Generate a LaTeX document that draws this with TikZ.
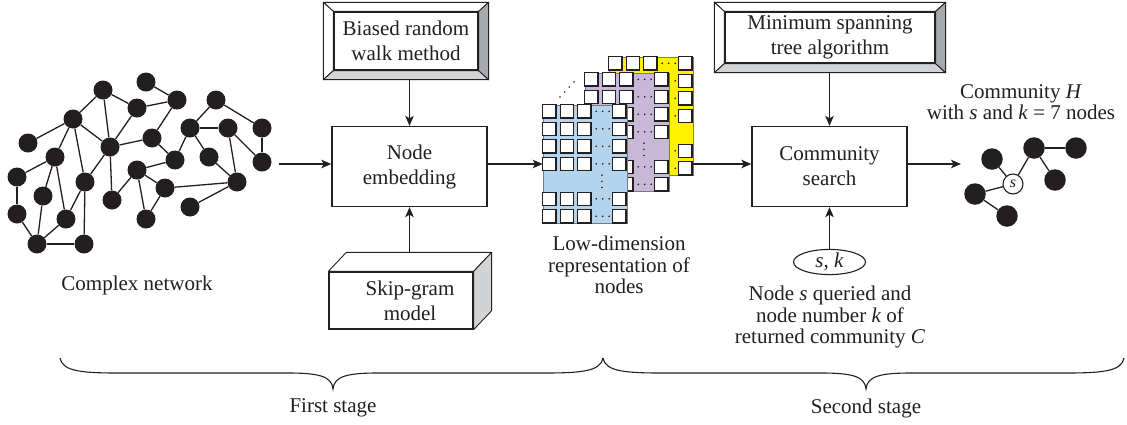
\documentclass[tikz,border=0pt]{standalone}
\usepackage{fontspec}
\setmainfont{Liberation Serif}
\usetikzlibrary{arrows.meta,calc,shapes.geometric}

\definecolor{ink}{HTML}{231F20}
\definecolor{panelblue}{HTML}{B4D4EE}
\definecolor{panelpurple}{HTML}{C7B8D8}
\definecolor{panelyellow}{HTML}{FFF100}
\definecolor{bevlight}{HTML}{D1D3D4}
\definecolor{bevdark}{HTML}{A7A9AC}

% bevelled frame around a named node (bevel 10 wide, 9 high)
\newcommand\bevelframe[1]{%
  \coordinate (bi1) at (#1.north west);
  \coordinate (bi2) at (#1.north east);
  \coordinate (bi3) at (#1.south east);
  \coordinate (bi4) at (#1.south west);
  \coordinate (bo1) at ($(bi1)+(-10,-9)$);
  \coordinate (bo2) at ($(bi2)+(10,-9)$);
  \coordinate (bo3) at ($(bi3)+(10,9)$);
  \coordinate (bo4) at ($(bi4)+(-10,9)$);
  \filldraw[facet,fill=white] (bo1) -- (bo2) -- (bi2) -- (bi1) -- cycle;
  \filldraw[facet,fill=white] (bo1) -- (bi1) -- (bi4) -- (bo4) -- cycle;
  \filldraw[facet,fill=bevlight] (bo4) -- (bi4) -- (bi3) -- (bo3) -- cycle;
  \filldraw[facet,fill=bevdark] (bo2) -- (bo3) -- (bi3) -- (bi2) -- cycle;
  \draw[draw=ink,line width=1.3pt] (bi1) rectangle (bi3);
}

% grid of cells, dotted column and dotted row inside an embedding panel
\newcommand\panelcells[1]{%
  \foreach \c in {0,1,2,4}
    \foreach \r in {0,1,2,3,5,6}
      \draw[cell] ($(#1.north west)+(\c*17.5,\r*17.5)$) rectangle +(13.3,13.3);
  \foreach \r in {0,1,2,3,5,6}
    \foreach \k in {1,7.5,14}
      \fill[ink] ($(#1.north west)+(52.5+\k,\r*17.5+6.65)$) circle (0.9);
  \foreach \k in {0.5,6.65,12.8}
    \fill[ink] ($(#1.north west)+(59.2,70+\k)$) circle (0.9);
}

% curly brace under a stage: left end, tip, right end
\newcommand\stagebrace[3]{%
  \draw[brace] (#1,358) .. controls (#1+2,372) and (#1+25,373) .. (#1+60,373)
    -- (#2-45,373) .. controls (#2-15,373) and (#2-1,376) .. (#2,389)
    .. controls (#2+1,376) and (#2+15,373) .. (#2+45,373)
    -- (#3-60,373) .. controls (#3-25,373) and (#3-2,372) .. (#3,358);
}

\begin{document}
\begin{tikzpicture}[x=1pt,y=-1pt,
  every node/.style={text=ink},
  txt/.style={font=\fontsize{21}{21.5}\selectfont,align=center,inner sep=0pt},
  link/.style={draw=ink,line width=1.3pt},
  arr/.style={link,-{Stealth[length=10pt,width=8.5pt,inset=2.5pt]}},
  dot/.style={circle,fill=ink,minimum size=19pt,inner sep=0pt},
  bigdot/.style={circle,fill=ink,minimum size=21.5pt,inner sep=0pt},
  procbox/.style={draw=ink,line width=1.3pt,fill=white,align=center,inner sep=0pt,
    font=\fontsize{21}{25}\selectfont},
  facet/.style={draw=ink,line width=0.9pt,line join=round},
  cell/.style={draw=ink,fill=white,line width=1.2pt},
  panel/.style={draw=ink!60,line width=0.6pt,minimum width=84pt,minimum height=118pt,
    inner sep=0pt},
  brace/.style={draw=ink,line width=1.1pt}
]
\fill[white] (0,0) rectangle (1127,424);
\useasboundingbox (0,0) rectangle (1127,424);

% ---------------- complex network ----------------
\foreach \n/\x/\y in {1/103/90, 2/146/82, 3/177/100, 4/137/108, 5/73/119,
    6/216/100, 7/190/128, 8/228/128, 9/262/128, 10/28/143, 11/110/147,
    12/152/138, 13/55/157, 14/175/160, 15/209/157, 16/262/162, 17/137/170,
    18/17/177, 19/85/182, 20/165/188, 21/237/182, 22/43/196, 23/112/200,
    24/190/207, 25/17/214, 26/66/219, 27/146/219, 28/37/244, 29/84/244}
  \node[dot] (n\n) at (\x,\y) {};
\foreach \a/\b in {2/3, 1/4, 4/3, 1/5, 1/11, 5/10, 5/11, 5/13, 5/19, 4/11,
    3/12, 11/12, 12/14, 11/23, 11/19, 13/18, 13/22, 13/26, 18/25, 25/28,
    22/28, 26/28, 28/29, 29/19, 19/26, 14/7, 14/17, 17/23, 17/20, 17/27,
    20/27, 20/21, 7/6, 7/8, 7/15, 6/9, 8/21, 8/16, 9/16, 15/21, 21/24}
  \draw[link] (n\a) -- (n\b);
\node[txt] (lblnet) at (137,285) {Complex network};

% ---------------- first stage: node embedding ----------------
\node[procbox,minimum width=155pt,minimum height=80pt] (emb) at (409.5,166.5)
  {Node\\embedding};
\node[procbox,minimum width=144pt,minimum height=58pt] (brw) at (406,41)
  {Biased random\\walk method};
\bevelframe{brw}

\node[procbox,minimum width=144pt,minimum height=57pt] (skip) at (401,300.5)
  {\hspace*{18pt}Skip-gram\\\hspace*{18pt}model};
\filldraw[facet,fill=white] (skip.north west) -- ++(18,-19)
  -- ($(skip.north east)+(18,-19)$) -- (skip.north east) -- cycle;
\filldraw[facet,fill=bevlight] (skip.north east) -- ++(18,-19)
  -- ($(skip.south east)+(18,-19)$) -- (skip.south east) -- cycle;
\draw[draw=ink,line width=1.3pt] (skip.north west) rectangle (skip.south east);

% ---------------- embedding panels ----------------
\node[panel,fill=panelyellow] (py) at (651,116) {};
\panelcells{py}
\node[panel,fill=panelpurple] (pp) at (627,132) {};
\panelcells{pp}
\node[panel,fill=panelblue] (pb) at (585,164) {};
\panelcells{pb}
\foreach \x/\y in {560/97, 564.7/92, 569.3/87, 574/82}
  \fill[ink] (\x,\y) circle (0.9);
\node[txt] (lblemb) at (619,265) {Low-dimension\\representation of\\nodes};

% ---------------- second stage: community search ----------------
\node[procbox,minimum width=155pt,minimum height=80pt] (cs) at (829.5,166.5)
  {Community\\search};
\node[procbox,minimum width=210pt,minimum height=51pt] (mst) at (830,37.5)
  {Minimum spanning\\tree algorithm};
\bevelframe{mst}
\node[draw=ink,ellipse,line width=1.1pt,minimum width=72pt,minimum height=22pt,
  inner sep=0pt,font=\fontsize{21}{21}\selectfont] (sk) at (829.5,262)
  {\textit{s}, \textit{k}};
\node[txt] (lblq) at (830,317)
  {Node \textit{s} queried and\\node number \textit{k} of\\returned community \textit{C}};

% ---------------- community H ----------------
\node[txt] (lblh) at (1021,102)
  {Community \textit{H}\\with \textit{s} and \textit{k} = 7 nodes};
\node[circle,draw=ink,fill=white,line width=1.1pt,minimum size=20pt,inner sep=0pt,
  font=\fontsize{16}{16}\selectfont] (hs) at (1013,184) {\textit{s}};
\node[bigdot] (ha) at (992,159) {};
\node[bigdot] (hb) at (1034,148) {};
\node[bigdot] (hc) at (1076,148) {};
\node[bigdot] (hd) at (1055,180) {};
\node[bigdot] (he) at (975,194) {};
\node[bigdot] (hf) at (1007,216) {};
\foreach \a/\b in {ha/hs, hs/hb, hb/hc, hb/hd, hs/he, he/hf}
  \draw[link] (\a) -- (\b);

% ---------------- connectors ----------------
\coordinate (netout) at (279,164);
\coordinate (hin) at (961,164);
\draw[arr] (netout) -- (netout -| emb.west);
\draw[arr] (emb.east |- netout) -- (pb.west |- netout);
\draw[arr] (py.east |- netout) -- (cs.west |- netout);
\draw[arr] (cs.east |- netout) -- (hin);
\draw[arr] ($(emb.north |- brw.south)+(0,9)$) -- (emb.north);
\draw[arr] ($(emb.south |- skip.north)+(0,-19)$) -- (emb.south);
\draw[arr] ($(cs.north |- mst.south)+(0,9)$) -- (cs.north);
\draw[arr] (sk.north) -- (cs.south);

% ---------------- stages ----------------
\stagebrace{60}{333}{603}
\stagebrace{603}{866}{1124}
\node[txt] (st1) at (333,408) {First stage};
\node[txt] (st2) at (866,408) {Second stage};
\end{tikzpicture}
\end{document}
